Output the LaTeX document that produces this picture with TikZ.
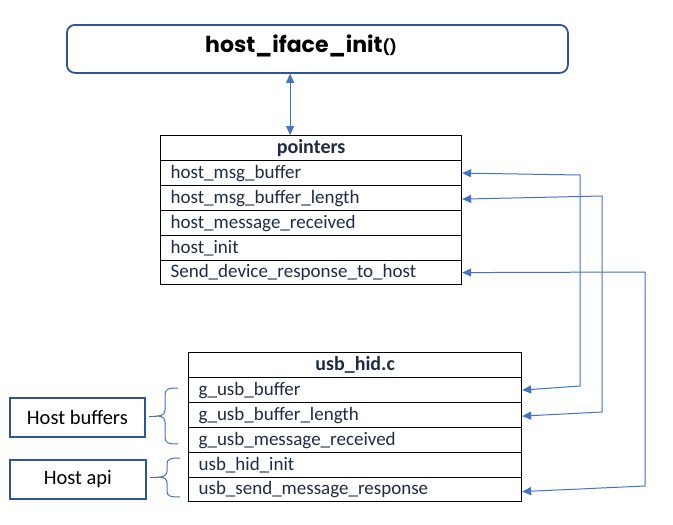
\documentclass[tikz,border=0pt]{standalone}
\usepackage{fontspec}
\setmainfont{Carlito}
\newfontfamily\titlefont{Poppins}
\usetikzlibrary{arrows.meta}
\definecolor{navy}{HTML}{1F2A44}
\definecolor{lineblue}{HTML}{4472C4}
\definecolor{boxblue}{HTML}{2F5597}
\tikzset{
  rowcell/.style={draw=black, line width=1.2pt, minimum height=25pt, inner ysep=0pt,
    inner xsep=10pt, align=left, text=navy, font=\fontsize{19}{22}\selectfont, anchor=north west},
  headcell/.style={draw=black, line width=1.2pt, minimum height=25pt, inner sep=0pt,
    text=navy, font=\fontsize{20}{23}\selectfont\bfseries, anchor=north west},
  labelbox/.style={draw=boxblue, line width=1.8pt, inner sep=0pt, anchor=north west,
    font=\fontsize{20.5}{24}\selectfont},
  link/.style={draw=lineblue, line width=1pt, {Triangle[length=9pt,width=8pt]}-{Triangle[length=9pt,width=8pt]}},
  bracepath/.style={draw=lineblue, line width=1pt}
}
\begin{document}
\begin{tikzpicture}[x=1pt,y=-1pt]
\useasboundingbox (0,0) rectangle (673,525);
% title
\node[draw=boxblue, line width=1.8pt, rounded corners=8pt, minimum width=501pt, minimum height=48pt,
  inner sep=0pt, anchor=north west] (title) at (66,24) {};
\node[inner sep=0pt, anchor=center] (titletext) at (301,46)
  {\titlefont\bfseries\fontsize{22}{25}\selectfont host\_iface\_init{\fontsize{15}{17}\selectfont()}};
% pointers table
\node[headcell, minimum width=301pt] (ph) at (160,135) {pointers};
\node[rowcell, text width=281pt] (p1) at (160,160) {host\_msg\_buffer};
\node[rowcell, text width=281pt] (p2) at (160,185) {host\_msg\_buffer\_length};
\node[rowcell, text width=281pt] (p3) at (160,210) {host\_message\_received};
\node[rowcell, text width=281pt] (p4) at (160,235) {host\_init};
\node[rowcell, text width=281pt, minimum height=24pt] (p5) at (160,260) {Send\_device\_response\_to\_host};
% usb_hid table
\node[headcell, minimum width=333pt] (uh) at (188,352) {usb\_hid.c};
\node[rowcell, text width=313pt] (u1) at (188,377) {g\_usb\_buffer};
\node[rowcell, text width=313pt] (u2) at (188,402) {g\_usb\_buffer\_length};
\node[rowcell, text width=313pt] (u3) at (188,427) {g\_usb\_message\_received};
\node[rowcell, text width=313pt] (u4) at (188,452) {usb\_hid\_init};
\node[rowcell, text width=313pt, minimum height=24pt] (u5) at (188,477) {usb\_send\_message\_response};
% title <-> pointers
\draw[link] (title.south -| ph.north) ++(-21,0) coordinate (ta) -- (ta |- ph.north);
% connectors
\draw[link] (p1.east) -- (580,175) -- (580,386) -- (u1.east);
\draw[link] ([yshift=-1pt]p2.east) -- (602,196) -- (602,412) -- ([yshift=-1pt]u2.east);
\draw[link] (p5.east) -- (645,272) -- (645,486) -- ([yshift=-2pt]u5.east);
% label boxes
\node[labelbox, minimum width=135pt, minimum height=39pt] (hb) at (9,397) {Host buffers};
\node[labelbox, minimum width=136pt, minimum height=39pt] (ha) at (9,459) {Host api};
% braces
\coordinate (b1) at (149,416);
\coordinate (b2) at (150,477);
\draw[bracepath] (178,388) .. controls (168,388) and (165,389) .. (165,395) -- (165,410)
  .. controls (165,414) and (162,416) .. (157,416)
  .. controls (162,416) and (165,418) .. (165,422) -- (165,437)
  .. controls (165,443) and (168,444) .. (178,444);
\draw[bracepath] (b1) -- (157,416);
\draw[bracepath] (180,458) .. controls (170,458) and (167,459) .. (167,464) -- (167,471)
  .. controls (167,475) and (164,477) .. (159,477)
  .. controls (164,477) and (167,479) .. (167,483) -- (167,491)
  .. controls (167,496) and (170,497) .. (180,497);
\draw[bracepath] (b2) -- (159,477);
\end{tikzpicture}
\end{document}
